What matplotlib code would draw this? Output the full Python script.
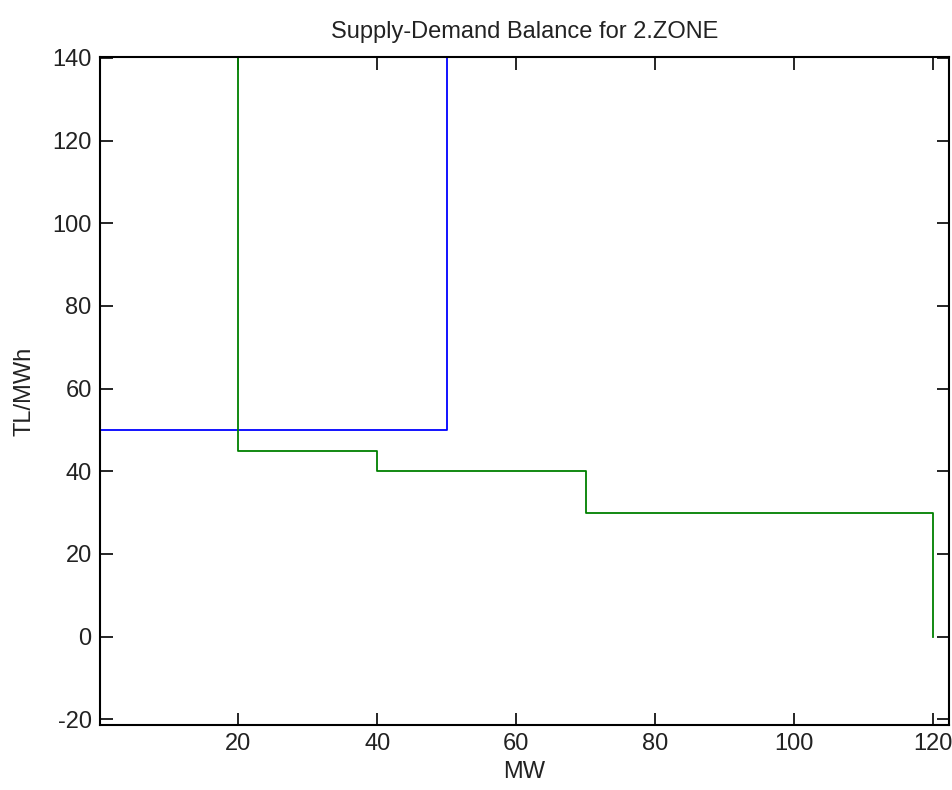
import matplotlib
matplotlib.use("Agg")
import matplotlib.pyplot as plt

# Demand curve (blue)
demand_q = [0, 50, 50]
demand_p = [50, 50, 200]

# Supply curve (green)
supply_q = [20, 20, 40, 40, 70, 70, 120, 120]
supply_p = [200, 45, 45, 40, 40, 30, 30, 0]

xticks = [20, 40, 60, 80, 100, 120]
yticks = [-20, 0, 20, 40, 60, 80, 100, 120, 140]

plt.rcParams['font.family'] = ['Liberation Sans', 'DejaVu Sans']
fs = 17
tc = '#222222'

fig = plt.figure(figsize=(9.53, 7.90), dpi=100)
ax = fig.add_axes([100/953, 1-725/790, (949-100)/953, (725-57)/790])

ax.plot(demand_q, demand_p, color=(0, 0, 1), lw=1.3)
ax.plot(supply_q, supply_p, color=(0, 0.5, 0), lw=1.3)

ax.set_xlim(0.1, 122.3)
ax.set_ylim(-21.4, 140.2)
ax.set_xticks(xticks)
ax.set_yticks(yticks)
ax.set_xticklabels([str(v) for v in xticks], fontsize=fs, color=tc)
ax.set_yticklabels([str(v) for v in yticks], fontsize=fs, color=tc)
ax.tick_params(direction='in', length=9, width=1.2, top=True, right=True, pad=6)
for s in ax.spines.values():
    s.set_linewidth(1.5)

ax.set_title('Supply-Demand Balance for 2.ZONE', fontsize=fs, pad=14, color=tc)
ax.set_xlabel('MW', fontsize=fs, labelpad=4, color=tc)
ax.set_ylabel('TL/MWh', fontsize=fs, labelpad=12, color=tc)

fig.savefig('out.png', dpi=100)
